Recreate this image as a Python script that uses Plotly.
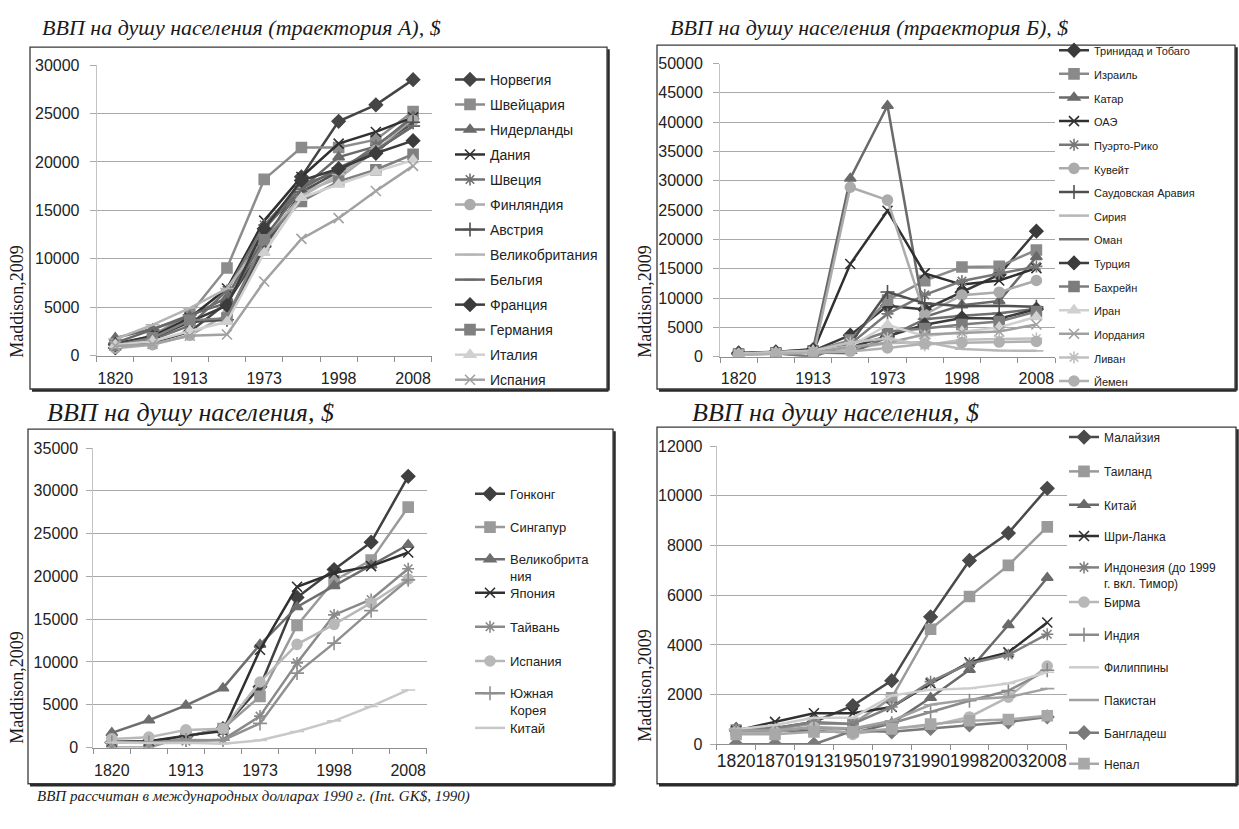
import plotly.graph_objects as go

W, H = 1239, 829


def px(x):
    return x / W


def py(y):
    return 1 - y / H


# ---------------- data ----------------
years = ["1820", "1870", "1913", "1950", "1973", "1990", "1998", "2003", "2008"]

# Panel A: trajectory A
a_names = ["Норвегия", "Швейцария", "Нидерланды", "Дания", "Швеция", "Финляндия", "Австрия",
           "Великобритания", "Бельгия", "Франция", "Германия", "Италия", "Испания"]
a_norway = [800, 1360, 2450, 5460, 11320, 18470, 24200, 25900, 28500]
a_switzerland = [1090, 2100, 4270, 9060, 18200, 21500, 21500, 22300, 25200]
a_netherlands = [1840, 2760, 4050, 6000, 13080, 17260, 20500, 21600, 24700]
a_denmark = [1270, 2000, 3910, 6940, 13950, 18450, 21900, 23100, 24600]
a_sweden = [1200, 1660, 3100, 6740, 13490, 17610, 19000, 21700, 24400]
a_finland = [780, 1140, 2110, 4250, 11090, 16870, 18300, 21200, 24300]
a_austria = [1220, 1860, 3470, 3710, 11240, 16900, 19000, 21000, 24100]
a_uk = [1710, 3190, 4920, 6940, 12030, 16430, 18700, 21300, 23700]
a_belgium = [1320, 2690, 4220, 5460, 12170, 17200, 19400, 21200, 23700]
a_france = [1140, 1880, 3490, 5190, 13110, 18090, 19300, 20900, 22200]
a_germany = [1080, 1840, 3650, 3880, 11970, 15930, 18000, 19200, 20800]
a_italy = [1120, 1500, 2560, 3500, 10630, 16310, 17700, 19000, 20200]
a_spain = [1010, 1210, 2060, 2190, 7660, 12060, 14200, 17000, 19600]
a_values = [a_norway, a_switzerland, a_netherlands, a_denmark, a_sweden, a_finland, a_austria,
            a_uk, a_belgium, a_france, a_germany, a_italy, a_spain]

# Panel B: trajectory B
b_names = ["Тринидад и Тобаго", "Израиль", "Катар", "ОАЭ", "Пуэрто-Рико", "Кувейт",
           "Саудовская Аравия", "Сирия", "Оман", "Турция", "Бахрейн", "Иран", "Иордания",
           "Ливан", "Йемен"]
b_trinidad = [500, 700, 1000, 3670, 8690, 8070, 11000, 14000, 21400]
b_israel = [400, 650, 1000, 2820, 9650, 12970, 15300, 15400, 18200]
b_qatar = [600, 750, 1300, 30400, 42800, 6800, 8800, 9500, 17000]
b_uae = [500, 700, 900, 15800, 24900, 14200, 12300, 13000, 15100]
b_puerto_rico = [600, 700, 1200, 2140, 7300, 10540, 12900, 14200, 15400]
b_kuwait = [400, 600, 0, 28900, 26700, 7200, 10500, 11000, 13000]
b_saudi = [500, 600, 800, 2230, 11040, 9100, 8600, 8700, 8500]
b_syria = [400, 500, 900, 1300, 2300, 2500, 1300, 1050, 1000]
b_oman = [400, 500, 700, 600, 3300, 6400, 7000, 7400, 8200]
b_turkey = [640, 830, 1210, 1620, 3480, 5440, 6600, 6500, 8100]
b_bahrain = [400, 600, 0, 2100, 4300, 4800, 5500, 6000, 7700]
b_iran = [500, 700, 1000, 1720, 5450, 3500, 4300, 5000, 6800]
b_jordan = [400, 600, 800, 1660, 2390, 3800, 4100, 4300, 5500]
b_lebanon = [500, 700, 1000, 2430, 3160, 1940, 2900, 3000, 3100]
b_yemen = [300, 500, 700, 900, 1500, 2200, 2400, 2500, 2600]
b_values = [b_trinidad, b_israel, b_qatar, b_uae, b_puerto_rico, b_kuwait, b_saudi, b_syria,
            b_oman, b_turkey, b_bahrain, b_iran, b_jordan, b_lebanon, b_yemen]

# Panel C: East Asia vs Europe
c_names = ["Гонконг", "Сингапур", "Великобрита<br>ния", "Япония", "Тайвань", "Испания",
           "Южная<br>Корея", "Китай"]
c_hong_kong = [600, 700, 1300, 2220, 7100, 17540, 20800, 24000, 31700]
c_singapore = [0, 0, 1280, 2220, 5980, 14260, 19500, 21900, 28100]
c_uk = [1710, 3190, 4920, 6940, 12030, 16430, 18900, 21300, 23700]
c_japan = [670, 740, 1390, 1920, 11430, 18790, 20400, 21200, 22800]
c_taiwan = [550, 550, 750, 920, 3670, 9890, 15500, 17300, 20900]
c_spain = [1010, 1210, 2060, 2190, 7660, 12060, 14400, 16900, 19700]
c_korea = [600, 600, 870, 850, 2820, 8700, 12200, 16000, 19600]
c_china = [600, 530, 550, 450, 840, 1870, 3120, 4800, 6730]
c_values = [c_hong_kong, c_singapore, c_uk, c_japan, c_taiwan, c_spain, c_korea, c_china]

# Panel D: South / South-East Asia
d_names = ["Малайзия", "Таиланд", "Китай", "Шри-Ланка", "Индонезия (до 1999<br>г. вкл. Тимор)",
           "Бирма", "Индия", "Филиппины", "Пакистан", "Бангладеш", "Непал"]
d_malaysia = [600, 660, 900, 1560, 2560, 5130, 7400, 8500, 10300]
d_thailand = [570, 610, 840, 820, 1870, 4630, 5950, 7200, 8750]
d_china = [600, 530, 550, 450, 840, 1870, 3000, 4800, 6700]
d_sri_lanka = [550, 900, 1250, 1250, 1500, 2450, 3300, 3700, 4900]
d_indonesia = [610, 650, 900, 820, 1500, 2520, 3250, 3600, 4430]
d_burma = [500, 500, 690, 400, 630, 750, 1100, 1900, 3150]
d_india = [530, 530, 670, 620, 850, 1310, 1750, 2160, 2980]
d_philippines = [600, 780, 1070, 1070, 1960, 2200, 2250, 2450, 2900]
d_pakistan = [550, 550, 700, 640, 950, 1590, 1800, 1900, 2240]
d_bangladesh = [0, 0, 0, 540, 500, 640, 780, 900, 1100]
d_nepal = [400, 400, 500, 500, 620, 810, 950, 1000, 1150]
d_values = [d_malaysia, d_thailand, d_china, d_sri_lanka, d_indonesia, d_burma, d_india,
            d_philippines, d_pakistan, d_bangladesh, d_nepal]

# ---------------- styles ----------------
MARKERS = ["diamond", "square", "triangle-up", "x-thin-open", "asterisk-open", "circle",
           "cross-thin-open", "line-ew-open", "line-ew-open"]
a_colors = ["#454545", "#8c8c8c", "#6a6a6a", "#303030", "#707070", "#ababab", "#505050",
            "#b4b4b4", "#686868", "#3c3c3c", "#808080", "#d0d0d0", "#a2a2a2"]
b_colors = ["#3a3a3a", "#8a8a8a", "#6a6a6a", "#303030", "#777777", "#ababab", "#505050",
            "#b8b8b8", "#707070", "#3c3c3c", "#7c7c7c", "#d0d0d0", "#a0a0a0", "#c0c0c0", "#b0b0b0"]
c_colors = ["#404040", "#9a9a9a", "#6e6e6e", "#303030", "#8a8a8a", "#b8b8b8", "#909090", "#c8c8c8"]
d_colors = ["#4a4a4a", "#9a9a9a", "#6a6a6a", "#303030", "#808080", "#b8b8b8", "#8a8a8a",
            "#cdcdcd", "#a0a0a0", "#7a7a7a", "#a8a8a8"]

SANS = "Liberation Sans, Arial, sans-serif"
SERIF = "Liberation Serif, Times New Roman, serif"

panels = [
    dict(vals=a_values, names=a_names, colors=a_colors, box=(96.7, 431.7, 58.3, 355),
         ymax=30000, dtick=5000, step=2, lx=490, lys=[73.3 + i * 25.55 for i in range(13)],
         lfs=14, xstand=8, ystand=7, xfs=16),
    dict(vals=b_values, names=b_names, colors=b_colors, box=(720, 1055, 56.7, 356),
         ymax=50000, dtick=5000, step=2, lx=1094, lys=[44 + i * 24.12 for i in range(15)],
         lfs=11, xstand=7, ystand=7, xfs=16),
    dict(vals=c_values, names=c_names, colors=c_colors, box=(93.3, 426.7, 449.3, 755),
         ymax=35000, dtick=5000, step=2, lx=510,
         lys=[496, 530, 563, 597, 631.7, 666.7, 700, 735], lfs=13, xstand=8, ystand=5,
         xfs=16),
    dict(vals=d_values, names=d_names, colors=d_colors, box=(716.7, 1066.7, 447.3, 751.7),
         ymax=12000, dtick=2000, step=1, lx=1104,
         lys=[438.3, 473.3, 507.3, 539.3, 571.7, 606.7, 640, 673.3, 706.7, 740, 771.7],
         lfs=12, xstand=1, ystand=4, xfs=17.5),
]

fig = go.Figure()
xs = list(range(len(years)))
legend_count = 0
layout_updates = {}

for p, pan in enumerate(panels, start=1):
    xa = "x" if p == 1 else f"x{p}"
    ya = "y" if p == 1 else f"y{p}"
    for i, (name, vals) in enumerate(zip(pan["names"], pan["vals"])):
        legend_count += 1
        lid = "legend" if legend_count == 1 else f"legend{legend_count}"
        col = pan["colors"][i]
        sym = MARKERS[i % len(MARKERS)]
        fig.add_trace(go.Scatter(
            x=xs, y=vals, name=name, mode="lines+markers",
            line=dict(color=col, width=2.5),
            marker=dict(symbol=sym, size=10, color=col, line=dict(color=col, width=1.6)),
            xaxis=xa, yaxis=ya, legend=lid, showlegend=True,
        ))
        nlines = name.count("<br>") + 1
        yc = pan["lys"][i] + 0.65 * pan["lfs"] * (nlines - 1)
        layout_updates[lid] = dict(
            x=px(pan["lx"] - 40), y=py(yc), xanchor="left", yanchor="middle",
            bgcolor="rgba(0,0,0,0)", borderwidth=0, valign="top", itemwidth=30,
            font=dict(family=SANS, size=pan["lfs"], color="#222222"),
            itemclick=False, itemdoubleclick=False,
        )
    x0, x1, yt, yb = pan["box"]
    xaxis_key = "xaxis" if p == 1 else f"xaxis{p}"
    yaxis_key = "yaxis" if p == 1 else f"yaxis{p}"
    lab_idx = list(range(0, len(years), pan["step"]))
    layout_updates[xaxis_key] = dict(
        domain=[px(x0), px(x1)], anchor=ya, range=[-0.5, len(years) - 0.5],
        tickmode="array", tickvals=[xs[k] for k in lab_idx], ticktext=[years[k] for k in lab_idx],
        ticks="", showgrid=False, zeroline=False, showline=True, linecolor="#8f8f8f",
        linewidth=1.2, tickangle=0, ticklabelstandoff=pan["xstand"],
        tickfont=dict(family=SANS, size=pan["xfs"], color="#222222"),
        minor=dict(tickmode="array", tickvals=[k - 0.5 for k in range(len(years) + 1)],
                   ticks="outside", ticklen=5, tickwidth=1, tickcolor="#8f8f8f", showgrid=False),
        fixedrange=True,
    )
    layout_updates[yaxis_key] = dict(
        domain=[py(yb), py(yt)], anchor=xa, range=[0, pan["ymax"]], dtick=pan["dtick"],
        tick0=0, tickformat="d", showgrid=True, gridcolor="#a9a9a9", gridwidth=1, zeroline=False,
        showline=True, linecolor="#c4c4c4", linewidth=1, ticks="outside", ticklen=6,
        tickcolor="#a9a9a9", ticklabelstandoff=pan["ystand"],
        tickfont=dict(family=SANS, size=16, color="#222222"), fixedrange=True,
    )

# panel frames (Excel chart areas with shadow)
frames = [(30, 607, 40, 389), (657, 1235, 38, 389), (28, 613, 430, 792), (657, 1236, 428, 792)]
shapes = []
for (fx0, fx1, fy0, fy1) in frames:
    shapes.append(dict(type="rect", xref="paper", yref="paper", x0=px(fx0), x1=px(fx1),
                       y0=py(fy1), y1=py(fy0), line=dict(color="#3a3a3a", width=1.3),
                       fillcolor="rgba(0,0,0,0)", layer="below"))
    shapes.append(dict(type="line", xref="paper", yref="paper", x0=px(fx0 + 2), x1=px(fx1 + 1.5),
                       y0=py(fy1 + 1.5), y1=py(fy1 + 1.5), line=dict(color="#2a2a2a", width=2.5)))
    shapes.append(dict(type="line", xref="paper", yref="paper", x0=px(fx1 + 1.5), x1=px(fx1 + 1.5),
                       y0=py(fy0 + 2), y1=py(fy1 + 1.5), line=dict(color="#2a2a2a", width=2.5)))

titles = [
    ("ВВП на душу населения (траектория А), $", 40, 20, 22),
    ("ВВП на душу населения (траектория Б), $", 668, 20, 22),
    ("ВВП на душу населения, $", 45, 413, 26),
    ("ВВП на душу населения, $", 690, 413, 26),
]
annotations = []
for text, tx, ty, fs in titles:
    annotations.append(dict(text=f"<i>{text}</i>", xref="paper", yref="paper", x=px(tx), y=py(ty),
                            xanchor="left", yanchor="middle", showarrow=False,
                            font=dict(family=SERIF, size=fs, color="#1a1a1a")))

ytitles = [(17, 300), (645, 300), (17, 694), (645, 692)]
for tx, ty in ytitles:
    annotations.append(dict(text="Maddison,2009", xref="paper", yref="paper", x=px(tx), y=py(ty),
                            xanchor="center", yanchor="middle", textangle=-90, showarrow=False,
                            font=dict(family=SERIF, size=18, color="#1a1a1a")))

annotations.append(dict(text="<i>ВВП рассчитан в международных долларах 1990 г. (Int. GK$, 1990)</i>",
                        xref="paper", yref="paper", x=px(35), y=py(805), xanchor="left",
                        yanchor="middle", showarrow=False,
                        font=dict(family=SERIF, size=15, color="#1a1a1a")))

fig.update_layout(**layout_updates)
fig.update_layout(
    width=W, height=H, margin=dict(l=0, r=0, t=0, b=0, pad=0),
    paper_bgcolor="white", plot_bgcolor="white",
    shapes=shapes, annotations=annotations, hovermode=False,
)

fig.write_html("out.html", config={"displayModeBar": False},
               post_script="document.body.style.margin='0px';document.body.style.overflow='hidden';")
